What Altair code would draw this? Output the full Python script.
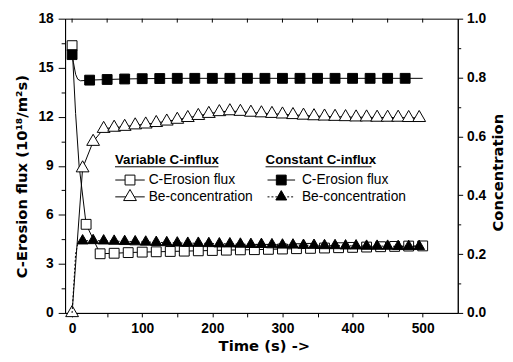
import altair as alt
import pandas as pd

# ---------------- data ----------------
# Variable C-influx : C-Erosion flux (open squares, left axis)
var_flux_t = [0, 5, 10] + list(range(20, 501, 20))
var_flux_v = [16.35, 12.2, 9.0,
              5.42, 3.62, 3.65, 3.69, 3.72, 3.74, 3.76, 3.78, 3.80, 3.82,
              3.84, 3.86, 3.87, 3.89, 3.91, 3.93, 3.95, 3.97, 3.99, 4.01,
              4.03, 4.05, 4.07, 4.09, 4.10]

# Constant C-influx : C-Erosion flux (filled squares, left axis)
const_flux_t = [0, 2, 5, 8, 12] + list(range(25, 501, 25))
const_flux_v = [15.8, 15.3, 14.6, 14.3, 14.2,
                14.24, 14.28, 14.31, 14.33, 14.34, 14.35, 14.35, 14.35, 14.35, 14.35,
                14.35, 14.35, 14.35, 14.35, 14.35, 14.35, 14.35, 14.35, 14.35, 14.35]

# Variable C-influx : Be-concentration (open triangles, right axis)
var_be_t = list(range(0, 496, 15))
var_be_v = [0.0, 0.492, 0.582, 0.626, 0.630, 0.633, 0.638, 0.641, 0.646, 0.651,
            0.657, 0.663, 0.670, 0.677, 0.683, 0.686, 0.684, 0.681, 0.679, 0.677,
            0.675, 0.673, 0.671, 0.669, 0.668, 0.667, 0.666, 0.665, 0.665, 0.664,
            0.664, 0.664, 0.663, 0.663]

# Constant C-influx : Be-concentration (filled triangles, right axis)
const_be_t = [0, 5, 8] + list(range(15, 496, 15))
const_be_v = [0.0, 0.20, 0.235,
              0.245, 0.246, 0.245, 0.244, 0.243, 0.242, 0.241, 0.240, 0.239, 0.238,
              0.237, 0.237, 0.236, 0.235, 0.235, 0.234, 0.233, 0.233, 0.232, 0.231,
              0.231, 0.230, 0.230, 0.229, 0.229, 0.228, 0.228, 0.227, 0.227, 0.227,
              0.226, 0.226, 0.226]

top_tick_t = list(range(0, 501, 50))

# legend (placed in data coordinates of the left axis)
leg_titles = ["Variable C-influx", "Constant C-influx"]
leg_title_x = [61.2, 275.9]
leg_title_y = [9.33, 9.33]
leg_ul_x2 = [208.7, 427.0]
leg_ul_y = [8.94, 8.94]
leg_labels = ["C-Erosion flux", "Be-concentration", "C-Erosion flux", "Be-concentration"]
leg_label_x = [109.2, 109.2, 327.7, 327.7]
leg_row_y = [8.13, 7.10, 8.13, 7.10]
leg_line_x1 = [61.6, 61.6, 278.7, 278.7]
leg_line_x2 = [103.6, 103.6, 318.0, 318.0]
leg_mark_x = [82.6, 82.6, 298.3, 298.3]
leg_kind = ["open_sq", "open_tri", "fill_sq", "fill_tri"]

# ---------------- styling ----------------
W, H = 399, 299
TICKFONT = "Liberation Sans"
TITLEFONT = "DejaVu Sans"
TRI = "M0,-1.155L1,0.577L-1,0.577Z"

xscale = alt.Scale(domain=[-10, 550], nice=False, zero=False)
fscale = alt.Scale(domain=[0, 18], nice=False, zero=False)
cscale = alt.Scale(domain=[0, 1], nice=False, zero=False)

common = dict(grid=False, domainColor="black", tickColor="black", labelColor="black",
              titleColor="black", labelFont=TICKFONT, labelFontSize=14,
              labelFontWeight="bold", titleFont=TITLEFONT, titleFontSize=15,
              titleFontWeight="bold", tickWidth=1, domainWidth=1)

x_axis = alt.Axis(values=list(range(0, 501, 50)),
                  labelExpr="datum.value % 100 == 0 ? datum.label : ''",
                  tickSize=4, labelPadding=5, title="Time (s) ->",
                  titleX=202, titleY=38, titleBaseline="alphabetic", titleAlign="center",
                  **common)
left_axis = alt.Axis(values=[i * 1.5 for i in range(13)],
                     labelExpr="datum.value % 3 == 0 ? format(datum.value, 'd') : ''",
                     tickSize={"condition": {"test": "datum.value % 3 == 0", "value": 7}, "value": 4},
                     labelPadding=5, title="C-Erosion flux (10¹⁸/m²s)",
                     titleAngle=270, titleX=-39, titleY=160, titleBaseline="alphabetic",
                     titleAlign="center", **common)
right_axis = alt.Axis(orient="right", values=[round(i * 0.1, 1) for i in range(11)],
                      labelExpr="round(datum.value * 10) % 2 == 0 ? format(datum.value, '.1f') : ''",
                      tickSize={"condition": {"test": "round(datum.value * 10) % 2 == 0", "value": 5}, "value": 3},
                      labelPadding=4, title="Concentration",
                      titleAngle=270, titleX=45, titleY=156, titleBaseline="alphabetic",
                      titleAlign="center", **common)

X = alt.X("t:Q", scale=xscale, axis=x_axis)
YF = alt.Y("v:Q", scale=fscale, axis=left_axis)
YC = alt.Y("v:Q", scale=cscale, axis=right_axis)

df_vf = pd.DataFrame({"t": var_flux_t, "v": var_flux_v})
df_cf = pd.DataFrame({"t": const_flux_t, "v": const_flux_v})
df_vb = pd.DataFrame({"t": var_be_t, "v": var_be_v})
df_cb = pd.DataFrame({"t": const_be_t, "v": const_be_v})

# --- flux group (left axis) ---
vf_line = alt.Chart(df_vf).mark_line(color="black", strokeWidth=1).encode(x=X, y=YF)
vf_pts = alt.Chart(df_vf).transform_filter("datum.t % 20 == 0").mark_point(
    shape="square", filled=True, fill="white", stroke="black", strokeWidth=1,
    size=100, opacity=1).encode(x=X, y=YF)
cf_line = alt.Chart(df_cf).mark_line(color="black", strokeWidth=1).encode(x=X, y=YF)
cf_pts = alt.Chart(df_cf).transform_filter("datum.t % 25 == 0 && datum.t <= 475").mark_point(
    shape="square", filled=True, fill="black", stroke="black", strokeWidth=1,
    size=100, opacity=1).encode(x=X, y=YF)

ttick = alt.Chart(pd.DataFrame({"t": top_tick_t, "v": [18.0] * len(top_tick_t),
                                "v2": [17.76] * len(top_tick_t)})).mark_rule(
    color="black", strokeWidth=1).encode(x=X, y=YF, y2="v2:Q")

df_lt = pd.DataFrame({"t": leg_title_x, "v": leg_title_y, "label": leg_titles,
                      "t2": leg_ul_x2, "u": leg_ul_y})
leg_title = alt.Chart(df_lt).mark_text(align="left", baseline="middle", font=TICKFONT,
                                       fontSize=13.5, fontWeight="bold", color="black").encode(
    x=X, y=YF, text="label:N")
leg_ul = alt.Chart(df_lt).mark_rule(color="black", strokeWidth=1).encode(
    x=X, x2="t2:Q", y=alt.Y("u:Q", scale=fscale, axis=left_axis))

df_le = pd.DataFrame({"t": leg_line_x1, "t2": leg_line_x2, "v": leg_row_y,
                      "lx": leg_label_x, "mx": leg_mark_x, "label": leg_labels, "kind": leg_kind})
leg_lines_solid = alt.Chart(df_le).transform_filter("datum.kind != 'fill_tri'").mark_rule(
    color="black", strokeWidth=1).encode(x=X, x2="t2:Q", y=YF)
leg_lines_dash = alt.Chart(df_le).transform_filter("datum.kind == 'fill_tri'").mark_rule(
    color="black", strokeWidth=1, strokeDash=[2, 2]).encode(x=X, x2="t2:Q", y=YF)
XM = alt.X("mx:Q", scale=xscale, axis=x_axis)
leg_osq = alt.Chart(df_le).transform_filter("datum.kind == 'open_sq'").mark_point(
    shape="square", filled=True, fill="white", stroke="black", strokeWidth=1, size=100,
    opacity=1).encode(x=XM, y=YF)
leg_fsq = alt.Chart(df_le).transform_filter("datum.kind == 'fill_sq'").mark_point(
    shape="square", filled=True, fill="black", stroke="black", strokeWidth=1, size=100,
    opacity=1).encode(x=XM, y=YF)
leg_otri = alt.Chart(df_le).transform_filter("datum.kind == 'open_tri'").mark_point(
    shape=TRI, filled=True, fill="white", stroke="black", strokeWidth=1, size=169,
    opacity=1).encode(x=XM, y=YF)
leg_ftri = alt.Chart(df_le).transform_filter("datum.kind == 'fill_tri'").mark_point(
    shape=TRI, filled=True, fill="black", stroke="black", strokeWidth=1, size=121,
    opacity=1).encode(x=XM, y=YF)
leg_text = alt.Chart(df_le).mark_text(align="left", baseline="middle", font=TICKFONT,
                                      fontSize=14, color="black").encode(
    x=alt.X("lx:Q", scale=xscale, axis=x_axis), y=YF, text="label:N")

flux_group = alt.layer(vf_line, vf_pts, cf_line, cf_pts, ttick, leg_title, leg_ul,
                       leg_lines_solid, leg_lines_dash, leg_osq, leg_fsq, leg_otri,
                       leg_ftri, leg_text)

# --- concentration group (right axis) ---
vb_line = alt.Chart(df_vb).mark_line(color="black", strokeWidth=1).encode(x=X, y=YC)
vb_pts = alt.Chart(df_vb).mark_point(shape=TRI, filled=True, fill="white", stroke="black",
                                     strokeWidth=1, size=169, opacity=1).encode(x=X, y=YC)
cb_line = alt.Chart(df_cb).mark_line(color="black", strokeWidth=1, strokeDash=[2, 2]).encode(x=X, y=YC)
cb_pts = alt.Chart(df_cb).transform_filter("datum.t % 15 == 0 && datum.t > 0").mark_point(
    shape=TRI, filled=True, fill="black", stroke="black", strokeWidth=1, size=121,
    opacity=1).encode(x=X, y=YC)

conc_group = alt.layer(vb_line, vb_pts, cb_line, cb_pts)

chart = alt.layer(flux_group, conc_group).resolve_scale(y="independent").properties(
    width=W, height=H,
    autosize=alt.AutoSizeParams(type="none"),
    padding={"left": 58, "top": 8, "right": 48, "bottom": 46},
    background="white",
).configure_view(stroke="black", strokeWidth=1)

chart.save("out.html", embed_options={"renderer": "svg", "actions": False})
